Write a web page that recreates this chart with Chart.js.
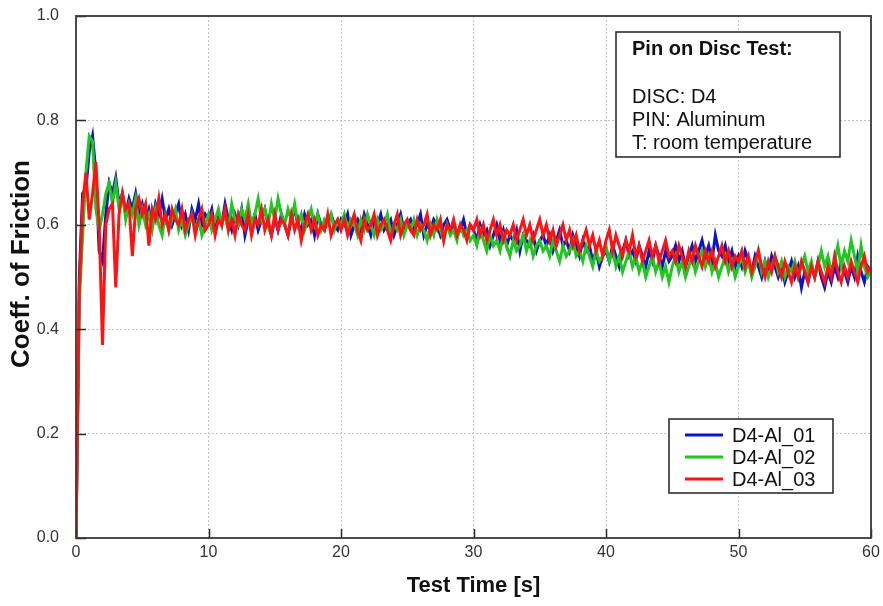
<!DOCTYPE html>
<html>
<head>
<meta charset="utf-8">
<title>Pin on Disc Test – Coefficient of Friction</title>
<script src="https://cdn.jsdelivr.net/npm/chart.js@4.4.1/dist/chart.umd.min.js"></script>
<style>
  html, body { margin: 0; padding: 0; background: #fff; }
  #wrap { width: 883px; height: 606px; position: relative; }
</style>
</head>
<body>
<div id="wrap"><canvas id="cof"></canvas></div>
<script>
// Sampling interval of the friction recorder, seconds
const sampleStep = 0.25;

// Coefficient of friction, one value per sample (0 s … 60 s)
const d4Al01 = [
  0, .50, .66, .67, .74, .77, .70, .55, .53, .62, .68, .66, .69, .64, .66, .62, .65, .63, .66, .62,
  .64, .61, .63, .60, .64, .62, .65, .61, .63, .60, .62, .64, .60, .62, .59, .63, .61, .64, .60, .62,
  .61, .63, .59, .62, .60, .64, .61, .59, .62, .60, .63, .58, .61, .60, .62, .59, .61, .63, .60, .58,
  .61, .59, .62, .60, .58, .61, .63, .60, .59, .62, .60, .61, .58, .62, .60, .59, .61, .62, .60, .59,
  .61, .60, .62, .58, .60, .61, .59, .62, .60, .58, .61, .60, .62, .59, .60, .61, .58, .60, .62, .59,
  .60, .61, .59, .60, .62, .58, .60, .59, .61, .60, .58, .60, .61, .59, .60, .58, .59, .61, .58, .60,
  .59, .57, .60, .58, .59, .56, .58, .60, .57, .59, .56, .58, .57, .59, .55, .58, .57, .56, .58, .55,
  .57, .58, .56, .58, .55, .57, .59, .56, .57, .55, .58, .56, .54, .57, .55, .56, .53, .55, .52, .54,
  .55, .53, .56, .54, .52, .55, .57, .54, .55, .53, .56, .54, .52, .55, .53, .56, .54, .52, .55, .53,
  .54, .56, .53, .55, .52, .54, .56, .53, .55, .57, .54, .56, .53, .58, .55, .54, .56, .53, .55, .52,
  .54, .52, .55, .53, .51, .54, .52, .50, .53, .51, .54, .52, .50, .52, .49, .51, .53, .50, .52, .48,
  .51, .49, .52, .50, .53, .50, .48, .51, .49, .52, .50, .53, .51, .49, .52, .50, .54, .51, .49, .52,
  .51
];

const d4Al02 = [
  0, .45, .58, .70, .77, .76, .63, .59, .62, .66, .68, .64, .68, .63, .66, .61, .64, .62, .65, .60,
  .63, .60, .62, .59, .63, .60, .58, .62, .59, .61, .63, .59, .61, .58, .60, .62, .59, .61, .58, .60,
  .62, .59, .61, .63, .60, .62, .59, .64, .61, .60, .63, .61, .64, .60, .62, .65, .61, .63, .60, .64,
  .61, .65, .62, .60, .63, .61, .64, .60, .62, .59, .61, .63, .60, .62, .59, .61, .60, .62, .59, .61,
  .60, .62, .59, .61, .60, .58, .61, .59, .62, .60, .58, .61, .59, .60, .62, .58, .60, .59, .61, .58,
  .60, .59, .61, .58, .60, .59, .57, .60, .58, .61, .59, .57, .60, .58, .59, .57, .60, .58, .59, .57,
  .58, .56, .59, .57, .55, .58, .56, .57, .55, .58, .56, .54, .57, .55, .56, .58, .55, .57, .54, .56,
  .57, .55, .56, .54, .57, .55, .53, .56, .54, .55, .57, .54, .55, .53, .56, .54, .52, .55, .53, .54,
  .56, .53, .55, .52, .54, .51, .53, .55, .52, .54, .51, .53, .50, .52, .54, .51, .53, .50, .52, .49,
  .52, .54, .51, .53, .50, .52, .54, .51, .53, .55, .52, .54, .51, .53, .50, .52, .54, .51, .53, .50,
  .52, .54, .51, .53, .50, .52, .55, .51, .53, .50, .52, .54, .51, .53, .50, .52, .51, .53, .50, .52,
  .54, .51, .53, .50, .52, .55, .52, .54, .51, .53, .56, .52, .55, .53, .57, .54, .51, .56, .52, .50,
  .51
];

const d4Al03 = [
  0, .48, .64, .70, .61, .66, .72, .60, .37, .60, .63, .64, .48, .62, .66, .63, .64, .54, .63, .65,
  .62, .64, .56, .63, .61, .65, .60, .62, .59, .63, .61, .60, .63, .59, .61, .62, .58, .61, .63, .59,
  .60, .62, .58, .61, .60, .63, .59, .61, .58, .62, .60, .59, .62, .58, .61, .60, .63, .59, .61, .58,
  .62, .59, .61, .60, .58, .62, .59, .61, .57, .60, .62, .59, .61, .58, .60, .59, .62, .58, .60, .61,
  .59, .61, .58, .60, .62, .59, .57, .61, .59, .60, .62, .58, .60, .61, .59, .57, .60, .62, .58, .60,
  .61, .59, .58, .61, .59, .60, .62, .58, .60, .59, .61, .57, .60, .59, .61, .58, .60, .59, .57, .60,
  .59, .61, .58, .60, .57, .59, .61, .58, .60, .57, .59, .58, .60, .57, .59, .61, .58, .60, .57, .59,
  .61, .58, .60, .57, .59, .56, .58, .60, .57, .59, .56, .58, .55, .57, .59, .56, .58, .55, .57, .54,
  .57, .59, .55, .58, .56, .54, .57, .55, .58, .54, .56, .53, .55, .57, .54, .56, .53, .55, .57, .54,
  .55, .53, .56, .54, .52, .55, .53, .56, .54, .52, .55, .53, .55, .52, .54, .56, .53, .55, .52, .54,
  .53, .55, .52, .54, .51, .53, .55, .52, .50, .53, .51, .54, .52, .50, .53, .51, .49, .52, .50, .53,
  .51, .49, .52, .50, .53, .51, .49, .52, .50, .54, .51, .49, .52, .50, .53, .51, .49, .52, .54, .51,
  .52
];

const seriesNames  = ['D4-Al_01', 'D4-Al_02', 'D4-Al_03'];
const seriesColors = ['#0a14c8', '#1ec81e', '#ff1212'];

const xTicks = [0, 10, 20, 30, 40, 50, 60];
const yTicks = [0.0, 0.2, 0.4, 0.6, 0.8, 1.0];

const xTitle = 'Test Time [s]';
const yTitle = 'Coeff. of Friction';
const infoTitle = 'Pin on Disc Test:';
const infoLines = ['DISC: D4', 'PIN: Aluminum', 'T: room temperature'];

const FONT = "'Liberation Sans', Arial, sans-serif";

function toPoints(values) {
  return values.map((v, i) => ({ x: i * sampleStep, y: v }));
}

// Y title, frame, inward tick marks, info box and legend
const plotDecor = {
  id: 'plotDecor',
  afterDatasetsDraw(chart) {
    const { ctx, chartArea: a, scales: { x, y } } = chart;
    ctx.save();

    // rotated y-axis title, sitting slightly above the plot's mid-height
    ctx.save();
    ctx.translate(22, (a.top + a.bottom) / 2 - 13);
    ctx.rotate(-Math.PI / 2);
    ctx.font = 'bold 26px ' + FONT;
    ctx.fillStyle = '#111';
    ctx.textAlign = 'center';
    ctx.textBaseline = 'middle';
    ctx.fillText(yTitle, 0, 0);
    ctx.restore();

    ctx.strokeStyle = '#2a2a2a';
    ctx.lineWidth = 1.5;
    ctx.beginPath();
    xTicks.forEach(v => {
      const px = Math.round(x.getPixelForValue(v)) + 0.5;
      ctx.moveTo(px, a.bottom); ctx.lineTo(px, a.bottom - 9);
    });
    yTicks.forEach(v => {
      const py = Math.round(y.getPixelForValue(v)) + 0.5;
      ctx.moveTo(a.left, py); ctx.lineTo(a.left + 10, py);
    });
    ctx.stroke();

    ctx.lineWidth = 1.8;
    ctx.strokeStyle = '#3a3a3a';
    ctx.strokeRect(a.left, a.top, a.right - a.left, a.bottom - a.top);

    // info box
    const bx = a.right - 255, by = a.top + 16, bw = 224, bh = 125;
    ctx.fillStyle = '#fff';
    ctx.fillRect(bx, by, bw, bh);
    ctx.lineWidth = 1.5;
    ctx.strokeStyle = '#222';
    ctx.strokeRect(bx, by, bw, bh);
    ctx.fillStyle = '#111';
    ctx.textAlign = 'left';
    ctx.textBaseline = 'alphabetic';
    ctx.font = 'bold 20px ' + FONT;
    ctx.fillText(infoTitle, bx + 16, by + 23);
    ctx.font = '20px ' + FONT;
    infoLines.forEach((t, i) => ctx.fillText(t, bx + 16, by + 71 + i * 23));

    // legend
    const lx = a.right - 202, ly = a.top + 403, lw = 164, lh = 74;
    ctx.fillStyle = '#fff';
    ctx.fillRect(lx, ly, lw, lh);
    ctx.strokeStyle = '#222';
    ctx.lineWidth = 1.5;
    ctx.strokeRect(lx, ly, lw, lh);
    ctx.font = '20px ' + FONT;
    ctx.textBaseline = 'middle';
    seriesNames.forEach((name, i) => {
      const cy = ly + 16 + i * 22;
      ctx.strokeStyle = seriesColors[i];
      ctx.lineWidth = 3;
      ctx.beginPath();
      ctx.moveTo(lx + 16, cy); ctx.lineTo(lx + 54, cy);
      ctx.stroke();
      ctx.fillStyle = '#111';
      ctx.fillText(name, lx + 63, cy + 1);
    });

    ctx.restore();
  }
};

new Chart(document.getElementById('cof'), {
  type: 'line',
  data: {
    datasets: [d4Al01, d4Al02, d4Al03].map((vals, i) => ({
      label: seriesNames[i],
      data: toPoints(vals),
      borderColor: seriesColors[i],
      backgroundColor: seriesColors[i],
      borderWidth: 3,
      pointRadius: 0,
      tension: 0,
      order: 3 - i
    }))
  },
  options: {
    responsive: true,
    maintainAspectRatio: false,
    animation: false,
    layout: { padding: { left: 0, right: 12, top: 16, bottom: 0 } },
    plugins: {
      legend: { display: false },
      tooltip: { enabled: false }
    },
    scales: {
      x: {
        type: 'linear',
        min: 0, max: 60,
        afterBuildTicks: s => { s.ticks = xTicks.map(v => ({ value: v })); },
        afterFit: s => { s.height = 68; s.paddingLeft = 0; s.paddingRight = 0; },
        ticks: {
          color: '#333',
          font: { family: FONT, size: 16 },
          padding: 5,
          maxRotation: 0,
          callback: v => String(v)
        },
        grid: { color: '#bfc3cc', lineWidth: 1, drawTicks: false },
        border: { display: false, dash: [2, 2] },
        title: {
          display: true,
          text: xTitle,
          color: '#111',
          font: { family: FONT, size: 22, weight: 'bold' },
          padding: { top: 0, bottom: 7 }
        }
      },
      y: {
        type: 'linear',
        min: 0, max: 1,
        afterBuildTicks: s => { s.ticks = yTicks.map(v => ({ value: v })); },
        afterFit: s => { s.width = 76; s.paddingTop = 0; s.paddingBottom = 0; },
        ticks: {
          color: '#333',
          font: { family: FONT, size: 16 },
          padding: 17,
          callback: v => v.toFixed(1)
        },
        grid: { color: '#bfc3cc', lineWidth: 1, drawTicks: false },
        border: { display: false, dash: [2, 2] },
        title: { display: false }
      }
    }
  },
  plugins: [plotDecor]
});
</script>
</body>
</html>
